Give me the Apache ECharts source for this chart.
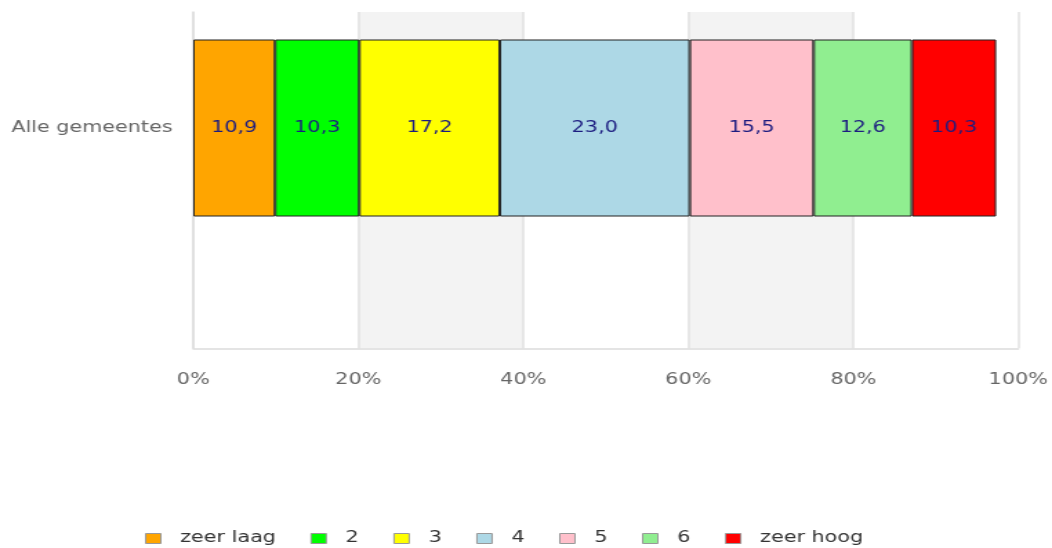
<!DOCTYPE html>
<html>
<head>
<meta charset="utf-8">
<script src="https://cdn.jsdelivr.net/npm/echarts@6/dist/echarts.min.js"></script>
<style>
  html, body { margin: 0; padding: 0; background: #fff; overflow: hidden; }
  /* de tekst in het origineel is horizontaal uitgerekt, daarom scaleX */
  #chart { width: 762px; height: 548px; transform: scaleX(1.3806); transform-origin: 0 0; }
</style>
</head>
<body>
<div id="chart"></div>
<script>
// data
const categorieen = ['Alle gemeentes'];
const reeksNamen = ['zeer laag', '2', '3', '4', '5', '6', 'zeer hoog'];
const balkWaarden = [9.9, 10.2, 17.0, 23.0, 15.0, 11.9, 10.2];   // lengte zoals getekend
const labelWaarden = [10.9, 10.3, 17.2, 23.0, 15.5, 12.6, 10.3]; // getoonde labels
const kleuren = ['#FFA500', '#00FF00', '#FFFF00', '#ADD8E6', '#FFC0CB', '#90EE90', '#FF0000'];
const xMin = 0, xMax = 100, xStap = 20;

const font = 'DejaVu Sans';
const chart = echarts.init(document.getElementById('chart'));

const series = reeksNamen.map(function (naam, i) {
    return {
        name: naam,
        type: 'bar',
        stack: 'totaal',
        xAxisIndex: 1,
        yAxisIndex: 1,
        barWidth: '100%',
        data: [balkWaarden[i]],
        itemStyle: { color: kleuren[i], borderColor: '#222', borderWidth: 1 },
        label: {
            show: true,
            position: 'inside',
            color: '#1c1c80',
            fontFamily: font,
            fontSize: 15,
            formatter: function () {
                return labelWaarden[i].toFixed(1).replace('.', ',');
            }
        },
        emphasis: { disabled: true }
    };
});

const option = {
    backgroundColor: '#fff',
    animation: false,
    grid: [
        { left: 140, right: 23.7, top: 12, bottom: 199.7 },
        { left: 140, right: 23.7, top: 39.5, height: 177 }
    ],
    xAxis: [{
        type: 'value',
        gridIndex: 0,
        min: xMin,
        max: xMax,
        interval: xStap,
        axisLine: { show: true, lineStyle: { color: '#dcdcdc', width: 1.5 } },
        axisTick: { show: false },
        axisLabel: {
            color: '#666',
            fontFamily: font,
            fontSize: 15,
            margin: 24,
            formatter: '{value}%'
        },
        splitLine: { show: true, lineStyle: { color: '#e2e2e2', width: 1.5 } },
        splitArea: { show: true, areaStyle: { color: ['#ffffff', '#f3f3f3'] } }
    }, {
        type: 'value',
        gridIndex: 1,
        min: xMin,
        max: xMax,
        show: false
    }],
    yAxis: [{
        type: 'category',
        gridIndex: 0,
        data: [''],
        axisLine: { show: true, lineStyle: { color: '#dcdcdc', width: 1.5 } },
        axisTick: { show: false },
        axisLabel: { show: false },
        splitLine: { show: false }
    }, {
        type: 'category',
        gridIndex: 1,
        data: categorieen,
        axisLine: { show: false },
        axisTick: { show: false },
        axisLabel: { color: '#666', fontFamily: font, fontSize: 15, margin: 15 }
    }],
    legend: {
        data: reeksNamen,
        left: 100,
        top: 526,
        icon: 'rect',
        itemWidth: 11,
        itemHeight: 10,
        itemGap: 25,
        itemStyle: { borderColor: '#999', borderWidth: 1 },
        textStyle: { color: '#333', fontFamily: font, fontSize: 15, padding: [0, 0, 0, 9] },
        selectedMode: false
    },
    series: series
};

chart.setOption(option);
</script>
</body>
</html>
